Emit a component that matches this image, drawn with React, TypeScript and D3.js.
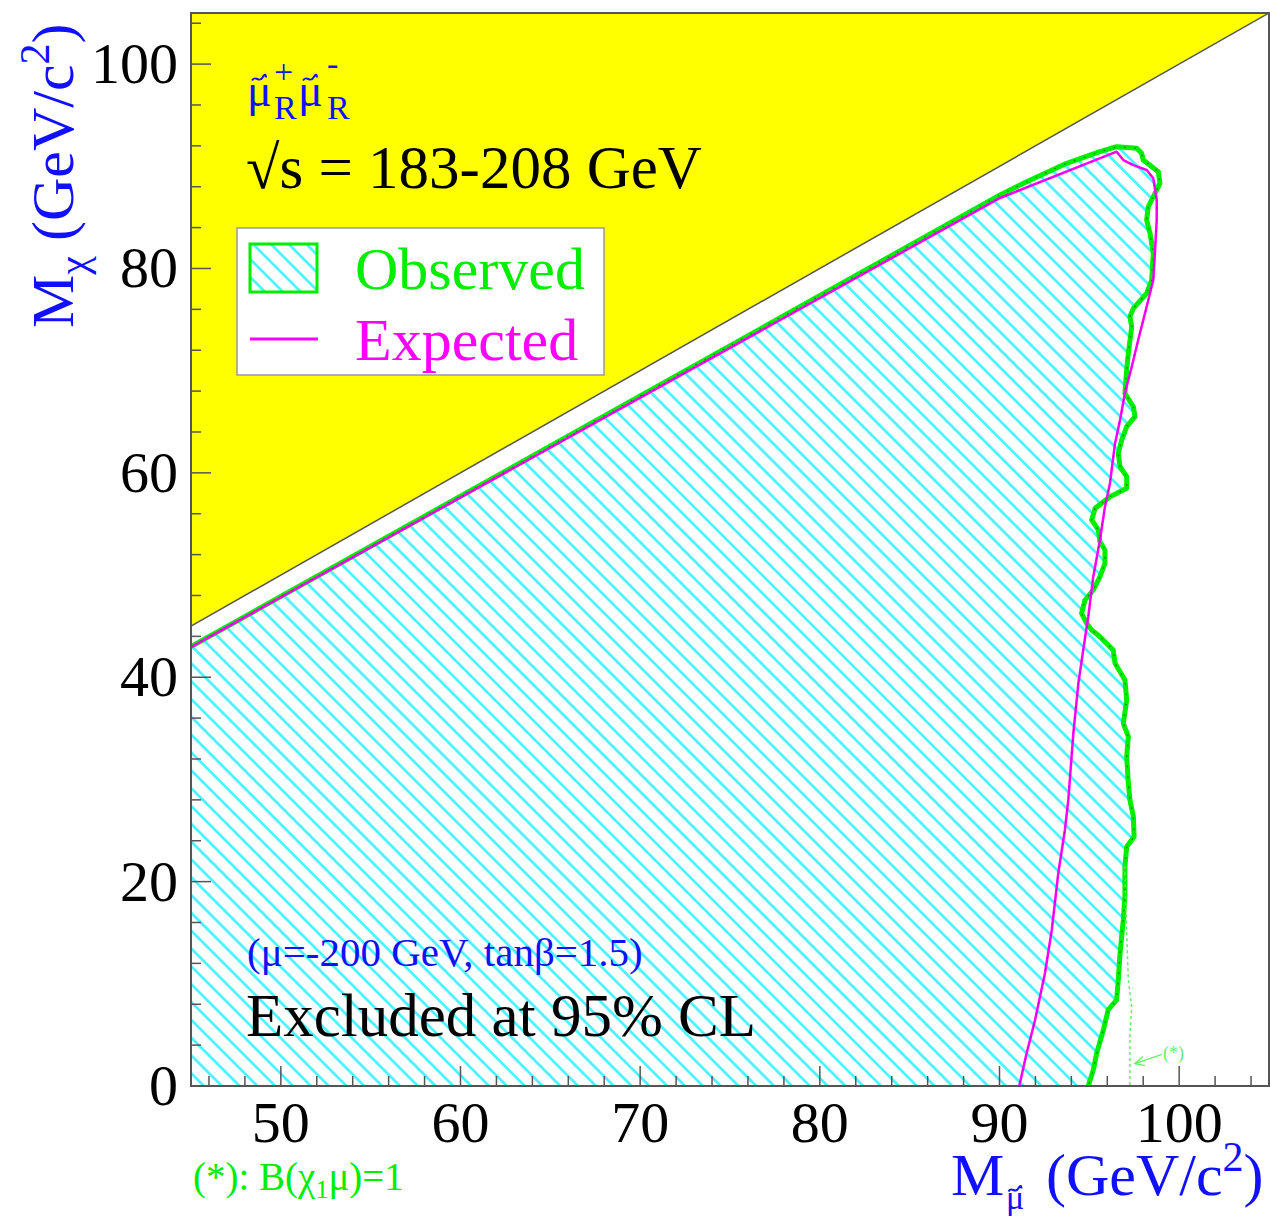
import React, { useEffect, useRef } from "react"
import * as d3 from "d3"

const W = 1270
const H = 1220

const xDomain = [45, 105]
const yDomain = [0, 105]
const xMajor = [50, 60, 70, 80, 90, 100]
const yMajor = [0, 20, 40, 60, 80, 100]
const xMinor = d3.range(46, 105, 2)
const yMinor = d3.range(0, 105, 4)

// kinematically forbidden corner M_chi > M_smuon
const kinX = [45, 105, 45]
const kinY = [45, 105, 105]

// observed 95% CL contour
const obsX = [45, 90.03, 91.51, 93.74, 95.59, 96.52, 97.64, 97.91, 98.0, 98.84, 98.93, 98.56, 98.28, 98.19, 98.38, 98.56, 98.47, 98.19, 97.45, 97.26, 97.36, 97.17, 97.08, 96.98, 97.45, 97.54, 97.08, 96.8, 96.61, 96.71, 97.08, 97.08, 96.15, 95.32, 95.13, 95.5, 95.59, 95.87, 95.87, 95.59, 95.22, 94.76, 94.57, 94.85, 95.13, 95.59, 96.33, 96.43, 96.98, 97.08, 96.89, 97.17, 97.08, 97.17, 97.26, 97.45, 97.49, 97.08, 96.98, 96.98, 96.89, 96.71, 96.61, 96.52, 96.05, 95.78, 95.41, 95.22, 94.94]
const obsY = [43.0, 87.19, 88.49, 90.29, 91.43, 91.92, 91.76, 91.27, 90.61, 89.47, 88.33, 87.02, 86.05, 84.74, 83.44, 81.49, 78.87, 77.57, 76.1, 75.28, 74.3, 71.7, 70.07, 67.79, 66.47, 65.5, 64.52, 63.21, 61.91, 60.6, 59.62, 58.49, 57.67, 56.53, 55.39, 54.41, 53.26, 52.45, 51.15, 49.84, 48.54, 47.56, 46.26, 45.28, 44.62, 43.97, 42.67, 41.36, 39.73, 37.77, 35.49, 34.18, 32.22, 29.62, 27.99, 26.35, 24.4, 23.42, 21.46, 18.52, 16.24, 12.99, 10.37, 8.42, 7.44, 5.48, 3.2, 1.57, 0]

// expected 95% CL contour
const expX = [45, 90.03, 96.52, 96.89, 97.45, 98.19, 98.56, 98.75, 98.75, 98.65, 98.56, 98.19, 97.72, 97.36, 96.98, 96.71, 96.43, 96.24, 96.15, 95.87, 95.59, 95.22, 94.94, 94.66, 94.39, 94.11, 93.83, 93.64, 93.27, 92.91, 92.53, 91.98, 91.51, 91.1]
const expY = [42.95, 86.9, 91.43, 90.61, 90.12, 89.64, 88.82, 86.7, 84.74, 81.48, 78.87, 76.26, 73.0, 70.39, 67.79, 65.18, 62.89, 60.28, 58.98, 56.69, 53.43, 49.84, 45.92, 42.67, 39.41, 34.51, 27.99, 25.05, 20.81, 15.27, 11.03, 6.46, 3.2, 0]

// (*) limit for B(chi_1 mu)=1
const starX = [96.98, 97.06, 97.17, 97.36, 97.26, 97.26]
const starY = [21.5, 16.0, 10.37, 7.76, 5.16, 0]

const serif = "'Liberation Serif', 'Times New Roman', serif"
const blue = "#1010ff"
const green = "#00ee00"

// little tilde accent drawn over a mu
function tilde(g: any, cx: number, cy: number, w: number) {
  const h = w * 0.22
  g.append("path")
    .attr("d", `M${cx - w / 2},${cy + h / 2}C${cx - w / 4},${cy - h * 1.5} ${cx},${cy + h * 1.5} ${cx + w / 4},${cy - h / 2}S${cx + w / 2},${cy - h / 2} ${cx + w / 2},${cy - h / 2}`)
    .attr("fill", "none").attr("stroke", blue).attr("stroke-width", 2)
}

export default function App() {
  const ref = useRef<SVGSVGElement>(null)

  useEffect(() => {
    const svg = d3.select(ref.current)
    svg.selectAll("*").remove()

    const x = d3.scaleLinear().domain(xDomain).range([191, 1269])
    const y = d3.scaleLinear().domain(yDomain).range([1086, 13])

    const defs = svg.append("defs")
    const pat = defs.append("pattern")
      .attr("id", "hatch")
      .attr("patternUnits", "userSpaceOnUse")
      .attr("width", 12.6)
      .attr("height", 12.6)
      .attr("patternTransform", "rotate(-45)")
    pat.append("line")
      .attr("x1", 6.3).attr("y1", -1).attr("x2", 6.3).attr("y2", 14)
      .attr("stroke", "#40f4ff")
      .attr("stroke-width", 2.6)

    const clip = defs.append("clipPath").attr("id", "frame")
    clip.append("rect").attr("x", 191).attr("y", 13).attr("width", 1078).attr("height", 1073)

    svg.append("rect").attr("x", 0).attr("y", 0).attr("width", W).attr("height", H).attr("fill", "white")

    const plot = svg.append("g").attr("clip-path", "url(#frame)")

    // yellow kinematic region
    const kin = kinX.map((v, i) => [x(v), y(kinY[i])] as [number, number])
    plot.append("path")
      .attr("d", "M" + kin.join("L") + "Z")
      .attr("fill", "#ffff00")
    plot.append("line")
      .attr("x1", x(45)).attr("y1", y(45)).attr("x2", x(105)).attr("y2", y(105))
      .attr("stroke", "#555").attr("stroke-width", 1.5)

    // observed excluded region
    const obsPts = obsX.map((v, i) => [x(v), y(obsY[i])] as [number, number])
    const region = obsPts.concat([[x(45), y(0)]])
    plot.append("path")
      .attr("d", "M" + region.join("L") + "Z")
      .attr("fill", "url(#hatch)")

    const path = d3.line()
    plot.append("path")
      .attr("d", path(obsPts))
      .attr("fill", "none")
      .attr("stroke", green)
      .attr("stroke-width", 5)
      .attr("stroke-linejoin", "round")
    plot.append("path")
      .attr("d", path(obsPts))
      .attr("fill", "none")
      .attr("stroke", "#0b5a0b")
      .attr("stroke-width", 1.3)
      .attr("stroke-dasharray", "1.5 9")
      .attr("opacity", 0.7)

    const starPts = starX.map((v, i) => [x(v), y(starY[i])] as [number, number])
    plot.append("path")
      .attr("d", path(starPts))
      .attr("fill", "none")
      .attr("stroke", "#66ee66")
      .attr("stroke-width", 1.5)
      .attr("stroke-dasharray", "3 3")

    const expPts = expX.map((v, i) => [x(v), y(expY[i])] as [number, number])
    plot.append("path")
      .attr("d", path(expPts))
      .attr("fill", "none")
      .attr("stroke", "#ff00ff")
      .attr("stroke-width", 2.5)
      .attr("stroke-linejoin", "round")
    plot.append("path")
      .attr("d", path(expPts))
      .attr("fill", "none")
      .attr("stroke", "#600060")
      .attr("stroke-width", 1)
      .attr("stroke-dasharray", "1.5 10")
      .attr("opacity", 0.6)

    // (*) arrow
    const ax0 = x(97.26) + 5, ay0 = y(2.2)
    const ax1 = x(97.26) + 32, ay1 = y(3.1)
    plot.append("line")
      .attr("x1", ax0).attr("y1", ay0).attr("x2", ax1).attr("y2", ay1)
      .attr("stroke", "#66ee66").attr("stroke-width", 1.3)
    plot.append("path")
      .attr("d", `M${ax0 + 8},${ay0 - 7}L${ax0},${ay0}L${ax0 + 10},${ay0 + 2}`)
      .attr("fill", "none").attr("stroke", "#66ee66").attr("stroke-width", 1.3)
    plot.append("text")
      .attr("x", ax1 + 1).attr("y", ay1 + 5)
      .attr("font-family", serif).attr("font-size", 18)
      .attr("fill", "#66ee66")
      .text("(*)")

    // frame
    svg.append("rect")
      .attr("x", 191).attr("y", 13).attr("width", 1078).attr("height", 1073)
      .attr("fill", "none").attr("stroke", "#555").attr("stroke-width", 2)

    // ticks
    const tick = svg.append("g").attr("stroke", "#555").attr("stroke-width", 1.5)
    xMinor.forEach(v => {
      const len = v % 10 === 0 ? 20 : 10
      tick.append("line").attr("x1", x(v)).attr("x2", x(v)).attr("y1", 1086).attr("y2", 1086 - len)
    })
    yMinor.forEach(v => {
      const len = v % 20 === 0 ? 20 : 10
      tick.append("line").attr("x1", 191).attr("x2", 191 + len).attr("y1", y(v)).attr("y2", y(v))
    })

    svg.append("g").selectAll("text").data(xMajor).enter().append("text")
      .attr("x", d => x(d)).attr("y", 1142)
      .attr("text-anchor", "middle")
      .attr("font-family", serif).attr("font-size", 58)
      .text(d => d)
    svg.append("g").selectAll("text").data(yMajor).enter().append("text")
      .attr("x", 178).attr("y", d => y(d) + 19)
      .attr("text-anchor", "end")
      .attr("font-family", serif).attr("font-size", 58)
      .text(d => d)

    // axis titles
    const yt = svg.append("text")
      .attr("transform", "translate(73,328) rotate(-90)")
      .attr("font-family", serif).attr("font-size", 60).attr("fill", blue)
    yt.append("tspan").text("M")
    yt.append("tspan").attr("dy", 14).attr("font-size", 42).text("χ")
    yt.append("tspan").attr("dy", -14).text(" (GeV/c")
    yt.append("tspan").attr("dy", -24).attr("font-size", 42).text("2")
    yt.append("tspan").attr("dy", 24).text(")")

    const xtitle = svg.append("g").attr("font-family", serif).attr("fill", blue)
    xtitle.append("text").attr("x", 951).attr("y", 1195).attr("font-size", 60).text("M")
    xtitle.append("text").attr("x", 1006).attr("y", 1209).attr("font-size", 34).text("μ")
    tilde(xtitle, 1015, 1190, 13)
    const xt = xtitle.append("text").attr("x", 1046).attr("y", 1195).attr("font-size", 60)
    xt.append("tspan").text("(GeV/c")
    xt.append("tspan").attr("dy", -24).attr("font-size", 42).text("2")
    xt.append("tspan").attr("dy", 24).text(")")

    const ft = svg.append("text")
      .attr("x", 193).attr("y", 1190)
      .attr("font-family", serif).attr("font-size", 39).attr("fill", green)
    ft.append("tspan").text("(*): B(χ")
    ft.append("tspan").attr("dy", 8).attr("font-size", 26).text("1")
    ft.append("tspan").attr("dy", -8).text("μ)=1")

    // process label
    const tt = svg.append("g").attr("font-family", serif).attr("fill", blue)
    const mus = [[247, 274, "+", 83], [298, 327, "-", 75]] as [number, number, string, number][]
    mus.forEach(([mx, sx, sign, sy]) => {
      tt.append("text").attr("x", mx).attr("y", 106).attr("font-size", 46).text("μ")
      tilde(tt, mx + 12, 79, 14)
      tt.append("text").attr("x", sx).attr("y", sy).attr("font-size", 34).text(sign)
      tt.append("text").attr("x", sx).attr("y", 119).attr("font-size", 34).text("R")
    })

    svg.append("text")
      .attr("x", 246).attr("y", 188)
      .attr("font-family", serif).attr("font-size", 61)
      .text("√s = 183-208 GeV")

    // legend
    svg.append("rect")
      .attr("x", 237).attr("y", 228).attr("width", 367).attr("height", 147)
      .attr("fill", "white").attr("stroke", "#999").attr("stroke-width", 1.5)
    svg.append("rect")
      .attr("x", 250).attr("y", 244).attr("width", 67).attr("height", 48)
      .attr("fill", "url(#hatch)").attr("stroke", green).attr("stroke-width", 3)
    svg.append("line")
      .attr("x1", 250).attr("x2", 318).attr("y1", 339).attr("y2", 339)
      .attr("stroke", "#ff00ff").attr("stroke-width", 3)
    svg.append("text")
      .attr("x", 355).attr("y", 289)
      .attr("font-family", serif).attr("font-size", 60).attr("fill", green)
      .text("Observed")
    svg.append("text")
      .attr("x", 355).attr("y", 360)
      .attr("font-family", serif).attr("font-size", 60).attr("fill", "#ff00ff")
      .text("Expected")

    svg.append("text")
      .attr("x", 247).attr("y", 966)
      .attr("font-family", serif).attr("font-size", 41).attr("fill", blue)
      .text("(μ=-200 GeV, tanβ=1.5)")
    svg.append("text")
      .attr("x", 246).attr("y", 1036)
      .attr("font-family", serif).attr("font-size", 61)
      .text("Excluded at 95% CL")
  }, [])

  return (
    <svg ref={ref} width={W} height={H}
      style={{ position: "absolute", left: 0, top: 0, display: "block" }} />
  )
}
